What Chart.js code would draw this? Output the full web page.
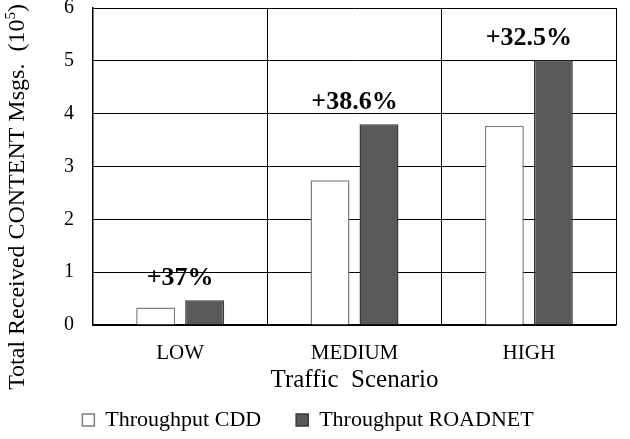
<!DOCTYPE html>
<html>
<head>
<meta charset="utf-8">
<script src="https://cdn.jsdelivr.net/npm/chart.js@4"></script>
<style>
  html, body { margin: 0; padding: 0; background: #ffffff; }
  #wrap { width: 630px; height: 439px; position: relative; }
</style>
</head>
<body>
<div id="wrap"><canvas id="traffic-chart"></canvas></div>
<script>
// Chart data
const categories = ['LOW', 'MEDIUM', 'HIGH'];
const cddValues = [0.33, 2.74, 3.77];
const roadnetValues = [0.47, 3.8, 5.01];
const gainLabels = ['+37%', '+38.6%', '+32.5%'];
const seriesNames = ['Throughput CDD', 'Throughput ROADNET'];
const xTitle = 'Traffic  Scenario';

const serif = "'Liberation Serif', 'Times New Roman', serif";

// Percent gain written above each group
const gainPlugin = {
  id: 'gainLabels',
  afterDatasetsDraw(chart) {
    const ctx = chart.ctx;
    const xScale = chart.scales.x;
    const yScale = chart.scales.y;
    ctx.save();
    ctx.font = 'bold 26px ' + serif;
    ctx.fillStyle = '#000000';
    ctx.textAlign = 'center';
    ctx.textBaseline = 'middle';
    gainLabels.forEach((label, i) => {
      const x = xScale.getPixelForValue(i);
      const y = yScale.getPixelForValue(roadnetValues[i]) - 22;
      ctx.fillText(label, x, y);
    });
    ctx.restore();
  }
};

// Axis titles (y title has a superscript exponent)
const axisTitlePlugin = {
  id: 'axisTitles',
  afterDraw(chart) {
    const ctx = chart.ctx;
    const area = chart.chartArea;

    // x title
    ctx.save();
    ctx.fillStyle = '#000000';
    ctx.font = '25px ' + serif;
    ctx.textAlign = 'center';
    ctx.textBaseline = 'middle';
    ctx.fillText(xTitle, (area.left + area.right) / 2, 380);
    ctx.restore();

    // y title
    const main = 'Total Received CONTENT Msgs.  (10';
    const sup = '5';
    const tail = ')';
    ctx.save();
    ctx.fillStyle = '#000000';
    ctx.textBaseline = 'middle';
    ctx.font = '24px ' + serif;
    const wMain = ctx.measureText(main).width;
    const wTail = ctx.measureText(tail).width;
    ctx.font = '15px ' + serif;
    const wSup = ctx.measureText(sup).width;
    const total = wMain + wSup + wTail;
    ctx.translate(18, 197);
    ctx.rotate(-Math.PI / 2);
    let x = -total / 2;
    ctx.textAlign = 'left';
    ctx.font = '24px ' + serif;
    ctx.fillText(main, x, 0);
    x += wMain;
    ctx.font = '15px ' + serif;
    ctx.fillText(sup, x, -7);
    x += wSup;
    ctx.font = '24px ' + serif;
    ctx.fillText(tail, x, 0);
    ctx.restore();
  }
};

const ctx = document.getElementById('traffic-chart').getContext('2d');
window.trafficChart = new Chart(ctx, {
  type: 'bar',
  data: {
    labels: categories,
    datasets: [
      {
        label: seriesNames[0],
        data: cddValues,
        backgroundColor: '#ffffff',
        borderColor: '#7f7f7f',
        borderWidth: 1.5,
        categoryPercentage: 0.562,
        barPercentage: 0.796
      },
      {
        label: seriesNames[1],
        data: roadnetValues,
        backgroundColor: '#595959',
        borderColor: '#3a3a3a',
        borderWidth: 1.5,
        categoryPercentage: 0.562,
        barPercentage: 0.796
      }
    ]
  },
  options: {
    responsive: true,
    maintainAspectRatio: false,
    animation: false,
    layout: {
      padding: { left: 0, right: 14, top: 0, bottom: -2 }
    },
    scales: {
      x: {
        grid: {
          color: '#000000',
          lineWidth: 1,
          drawTicks: false
        },
        border: { color: '#000000', width: 1.5 },
        ticks: {
          color: '#000000',
          padding: 16,
          font: { size: 21, family: serif }
        },
        afterFit: function (scale) {
          scale.height = 49;
        }
      },
      y: {
        min: 0,
        max: 6,
        grid: {
          color: '#000000',
          lineWidth: 1,
          drawTicks: false
        },
        border: { color: '#000000', width: 1.5 },
        ticks: {
          stepSize: 1,
          color: '#000000',
          padding: 19,
          font: { size: 20, family: serif }
        },
        afterFit: function (scale) {
          scale.width = 93;
          scale.paddingTop = 8;
        }
      }
    },
    plugins: {
      legend: {
        position: 'bottom',
        labels: {
          color: '#000000',
          boxWidth: 12,
          boxHeight: 12,
          padding: 35,
          font: { size: 22, family: serif }
        }
      },
      tooltip: { enabled: false }
    }
  },
  plugins: [gainPlugin, axisTitlePlugin]
});
</script>
</body>
</html>
